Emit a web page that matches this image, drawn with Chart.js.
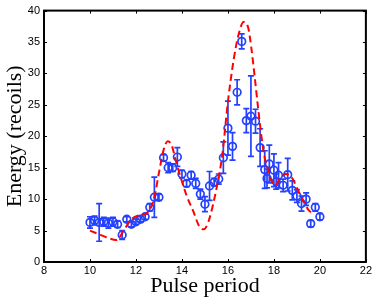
<!DOCTYPE html>
<html>
<head>
<meta charset="utf-8">
<script src="https://cdn.jsdelivr.net/npm/chart.js@4"></script>
<style>
html,body{margin:0;padding:0;background:#fff;}
#wrap{width:374px;height:300px;}
</style>
</head>
<body>
<div id="wrap"><canvas id="c" width="374" height="300"></canvas></div>
<script>
// Measured points (blue circles with error bars)
const pulsePeriod = [10.0,10.2,10.4,10.6,10.8,11.0,11.2,11.4,11.6,11.8,12.0,12.2,12.4,12.6,12.8,13.0,13.2,13.4,13.6,13.8,14.0,14.2,14.4,14.6,14.8,15.0,15.2,15.4,15.6,15.8,16.0,16.2,16.4,16.6,16.8,17.0,17.2,17.4,17.6,17.7,17.8,18.0,18.1,18.2,18.4,18.6,18.8,19.0,19.2,19.4,19.6,19.8,20.0];
const energy = [6.3,6.6,6.3,6.4,6.2,6.4,6.0,4.3,6.8,6.0,6.4,6.8,7.2,8.7,10.3,10.3,16.6,15.0,15.0,16.7,14.0,12.5,13.8,12.5,10.8,9.2,12.1,12.7,13.2,16.6,21.3,18.4,27.0,35.1,22.5,23.2,22.4,18.2,14.7,13.3,15.6,14.6,12.8,13.8,12.2,13.9,11.4,10.5,9.3,10.0,6.1,8.7,7.2];
const energyErr = [0.9,0.7,3.0,0.7,0.8,0.7,0.5,0.7,0.4,0.4,0.4,0.4,0.4,0.6,3.2,0.5,0.5,0.8,0.6,1.5,0.6,0.5,0.6,0.8,0.8,1.2,2.3,0.6,0.8,2.5,4.3,2.2,2.0,1.2,1.9,6.4,1.9,3.0,3.0,1.5,3.0,2.6,1.2,2.0,1.0,2.6,1.5,1.0,1.2,1.0,0.5,0.6,0.5];
// Theory curve (red dashed)
const curveX = [10.0,10.4,10.8,11.15,11.5,11.8,12.1,12.4,12.6,12.8,13.0,13.2,13.38,13.55,13.75,14.0,14.2,14.5,14.75,14.95,15.15,15.35,15.55,15.75,16.0,16.25,16.45,16.68,16.88,17.02,17.16,17.3,17.45,17.6,17.75,17.9,18.05,18.25,18.52,18.8,19.05,19.3,19.5,19.7];
const curveY = [5.0,4.4,3.8,3.5,5.2,6.8,7.4,7.6,8.3,10.3,14.2,17.8,19.2,18.6,15.9,12.8,10.6,8.0,5.7,5.2,6.4,9.1,12.6,16.9,25.5,32.2,36.0,38.2,37.3,34.0,29.6,24.9,20.2,16.6,14.6,12.9,12.2,13.2,14.0,13.3,11.4,9.6,8.3,7.7];
const xTicks = [8,10,12,14,16,18,20,22];
const yTicks = [0,5,10,15,20,25,30,35,40];

const BLUE = 'rgb(35,65,255)';
const RED = '#ff0000';

const framePlugin = {
  id: 'frame',
  beforeDatasetsDraw(chart) {
    const ctx = chart.ctx;
    const xs = chart.scales.x, ys = chart.scales.y;
    const ds = chart.data.datasets[1].data;
    ctx.save();
    ctx.strokeStyle = BLUE;
    ctx.lineWidth = 1.7;
    ds.forEach((p, i) => {
      const e = energyErr[i];
      const px = xs.getPixelForValue(p.x);
      const y1 = ys.getPixelForValue(p.y - e);
      const y2 = ys.getPixelForValue(p.y + e);
      ctx.beginPath();
      ctx.moveTo(px, y1); ctx.lineTo(px, y2);
      ctx.moveTo(px - 3, y1); ctx.lineTo(px + 3, y1);
      ctx.moveTo(px - 3, y2); ctx.lineTo(px + 3, y2);
      ctx.stroke();
    });
    ctx.restore();
  },
  afterDraw(chart) {
    const ctx = chart.ctx;
    const a = chart.chartArea;
    const xs = chart.scales.x, ys = chart.scales.y;
    ctx.save();
    ctx.strokeStyle = '#000';
    ctx.lineWidth = 1;
    ctx.beginPath();
    xTicks.forEach(v => {
      const px = Math.round(xs.getPixelForValue(v)) + 0.5;
      ctx.moveTo(px, a.bottom); ctx.lineTo(px, a.bottom - 3);
      ctx.moveTo(px, a.top); ctx.lineTo(px, a.top + 3);
    });
    yTicks.forEach(v => {
      const py = Math.round(ys.getPixelForValue(v)) + 0.5;
      ctx.moveTo(a.left, py); ctx.lineTo(a.left + 3, py);
      ctx.moveTo(a.right, py); ctx.lineTo(a.right - 3, py);
    });
    ctx.stroke();
    ctx.lineWidth = 2;
    ctx.strokeRect(a.left, a.top, a.right - a.left, a.bottom - a.top);
    ctx.restore();
  }
};

new Chart(document.getElementById('c'), {
  type: 'scatter',
  data: {
    datasets: [
      {
        type: 'line',
        data: curveX.map((x, i) => ({x: x, y: curveY[i]})),
        borderColor: RED,
        borderWidth: 2,
        borderDash: [7, 4],
        pointRadius: 0,
        fill: false,
        cubicInterpolationMode: 'monotone'
      },
      {
        type: 'scatter',
        data: pulsePeriod.map((x, i) => ({x: x, y: energy[i]})),
        pointStyle: 'circle',
        pointRadius: 3.8,
        borderWidth: 1.7,
        borderColor: BLUE,
        backgroundColor: 'rgba(0,0,0,0)'
      }
    ]
  },
  options: {
    responsive: false,
    animation: false,
    events: [],
    layout: { autoPadding: false, padding: { left: 0, right: 7, top: 4, bottom: 0 } },
    plugins: { legend: { display: false }, tooltip: { enabled: false } },
    scales: {
      x: {
        type: 'linear', min: 8, max: 22,
        afterBuildTicks: s => { s.ticks = xTicks.map(v => ({value: v})); },
        afterFit: s => { s.height = 38; },
        grid: { display: false, drawTicks: false },
        border: { display: false },
        ticks: { color: '#000', padding: 2, maxRotation: 0, autoSkip: false, font: { family: 'Liberation Sans', size: 11 } },
        title: { display: true, text: 'Pulse period', color: '#000', padding: { top: 0, bottom: 1 }, font: { family: 'Liberation Serif', size: 22 } }
      },
      y: {
        type: 'linear', min: 0, max: 40,
        afterBuildTicks: s => { s.ticks = yTicks.map(v => ({value: v})); },
        afterFit: s => { s.width = 44; },
        grid: { display: false, drawTicks: false },
        border: { display: false },
        ticks: { color: '#000', padding: 4, autoSkip: false, font: { family: 'Liberation Sans', size: 11 } },
        title: { display: true, text: 'Energy (recoils)', color: '#000', padding: { top: 2, bottom: 0 }, font: { family: 'Liberation Serif', size: 22 } }
      }
    }
  },
  plugins: [framePlugin]
});
</script>
</body>
</html>
